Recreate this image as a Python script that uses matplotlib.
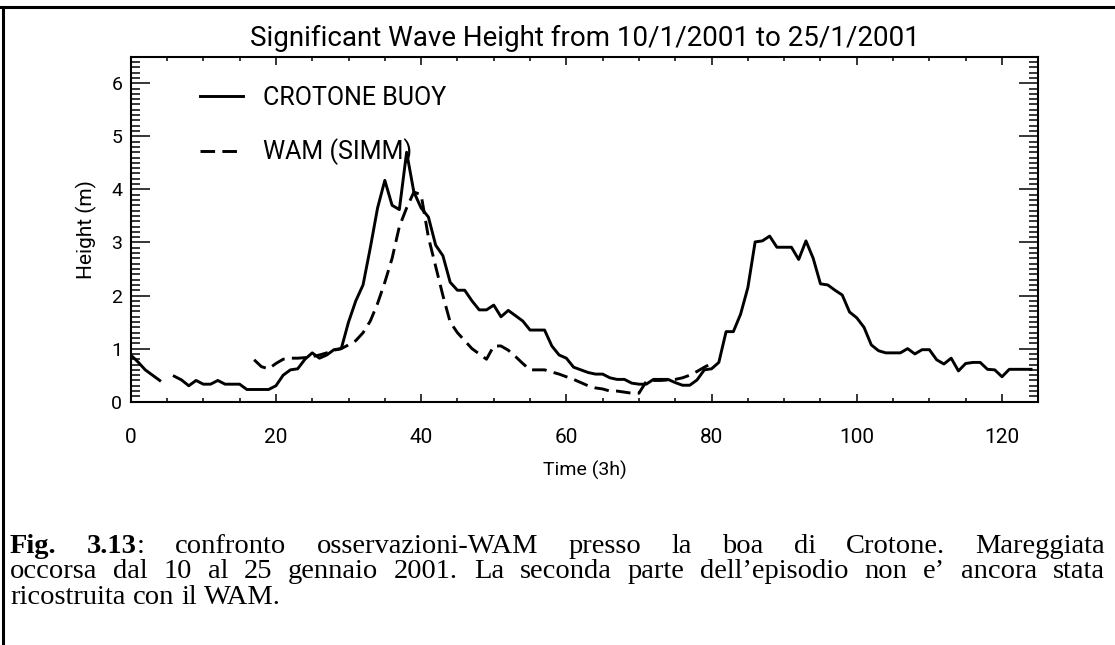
import numpy as np
import matplotlib
matplotlib.use('Agg')
import matplotlib.pyplot as plt
from matplotlib.ticker import MultipleLocator
from matplotlib.lines import Line2D
from matplotlib.transforms import IdentityTransform

# Time steps (3h) and significant wave height (m)
buoy_time = np.arange(0, 125)
buoy_height = [
    0.88, 0.75, 0.60, 0.50, 0.40, np.nan, 0.48, 0.41, 0.30, 0.40,   # 0-9
    0.33, 0.33, 0.40, 0.33, 0.33, 0.33, 0.23, 0.23, 0.23, 0.23,     # 10-19
    0.30, 0.50, 0.60, 0.62, 0.80, 0.92, 0.82, 0.88, 0.98, 1.00,     # 20-29
    1.50, 1.90, 2.20, 2.90, 3.65, 4.17, 3.70, 3.62, 4.70, 3.95,     # 30-39
    3.65, 3.48, 2.95, 2.75, 2.25, 2.10, 2.10, 1.90, 1.73, 1.73,     # 40-49
    1.82, 1.60, 1.72, 1.62, 1.52, 1.35, 1.35, 1.35, 1.05, 0.88,     # 50-59
    0.82, 0.65, 0.60, 0.55, 0.52, 0.52, 0.45, 0.42, 0.42, 0.35,     # 60-69
    0.33, 0.33, 0.42, 0.42, 0.42, 0.36, 0.31, 0.31, 0.41, 0.60,     # 70-79
    0.62, 0.74, 1.32, 1.32, 1.65, 2.15, 3.01, 3.03, 3.12, 2.91,     # 80-89
    2.91, 2.91, 2.68, 3.03, 2.70, 2.22, 2.20, 2.10, 2.01, 1.69,     # 90-99
    1.58, 1.40, 1.07, 0.96, 0.92, 0.92, 0.92, 1.00, 0.90, 0.98,     # 100-109
    0.98, 0.79, 0.71, 0.82, 0.58, 0.72, 0.74, 0.74, 0.61, 0.60,     # 110-119
    0.47, 0.61, 0.61, 0.61, 0.61,                                   # 120-124
]
wam_time = np.arange(17, 81)
wam_height = [
    0.79, 0.66, 0.62,                                               # 17-19
    0.72, 0.80, 0.82, 0.82, 0.83, 0.85, 0.88, 0.92, 0.97, 1.00,     # 20-29
    1.07, 1.15, 1.30, 1.52, 1.85, 2.25, 2.70, 3.30, 3.65, 3.95,     # 30-39
    3.90, 3.10, 2.55, 2.00, 1.50, 1.30, 1.15, 1.00, 0.90, 0.80,     # 40-49
    1.05, 1.05, 0.97, 0.85, 0.72, 0.60, 0.60, 0.60, 0.56, 0.52,     # 50-59
    0.47, 0.42, 0.36, 0.30, 0.26, 0.24, 0.20, 0.20, 0.18, 0.16,     # 60-69
    0.16, 0.38, 0.40, 0.40, 0.41, 0.42, 0.45, 0.50, 0.57, 0.65,     # 70-79
    0.72,                                                           # 80
]
series_labels = ['CROTONE BUOY', 'WAM (SIMM)']
x_ticks = [0, 20, 40, 60, 80, 100, 120]
y_ticks = [0, 1, 2, 3, 4, 5, 6]

title = 'Significant Wave Height from 10/1/2001 to 25/1/2001'
x_label = 'Time (3h)'
y_label = 'Height (m)'

# caption: each line is a list of words, each word a list of (text, weight) pieces
caption_lines = [
    [[('Fig.', 'bold')], [('3.13', 'bold'), (':', 'normal')], [('confronto', 'normal')],
     [('osservazioni-WAM', 'normal')], [('presso', 'normal')], [('la', 'normal')],
     [('boa', 'normal')], [('di', 'normal')], [('Crotone.', 'normal')], [('Mareggiata', 'normal')]],
    [[(w, 'normal')] for w in "occorsa dal 10 al 25 gennaio 2001. La seconda parte dell\u2019episodio non e\u2019 ancora stata".split()],
    [[(w, 'normal')] for w in "ricostruita con il WAM.".split()],
]

sans = ['Roboto', 'DejaVu Sans']
serif = ['Liberation Serif', 'DejaVu Serif']
plt.rcParams['font.family'] = sans

W, H = 1115, 645
fig = plt.figure(figsize=(W / 100, H / 100), dpi=100)
ax = fig.add_axes([130.7 / W, 1 - 401.7 / H, (1038.3 - 130.7) / W, (401.7 - 56.7) / H])

ax.plot(buoy_time, buoy_height, color='black', lw=2.1, label=series_labels[0])
ax.plot(wam_time, wam_height, color='black', lw=2.1, dashes=(5.0, 2.5), label=series_labels[1])

ax.set_xlim(0, 125)
ax.set_ylim(0, 6.5)
ax.set_xticks(x_ticks)
ax.set_yticks(y_ticks)
ax.xaxis.set_minor_locator(MultipleLocator(5))
ax.yaxis.set_minor_locator(MultipleLocator(0.1))
ax.tick_params(axis='both', which='both', direction='in', top=True, right=True,
               color='black', width=1.1)
ax.tick_params(axis='x', which='major', length=6, labelsize=15, pad=19)
ax.tick_params(axis='x', which='minor', length=3)
ax.tick_params(axis='y', which='major', length=13.5, labelsize=14, pad=6)
ax.tick_params(axis='y', which='minor', length=6.5)
for s in ax.spines.values():
    s.set_linewidth(1.5)

ax.set_title(title, fontsize=20, pad=8)
ax.set_xlabel(x_label, fontsize=14, labelpad=10)
ax.set_ylabel(y_label, fontsize=15, labelpad=10)

ax.legend(loc='upper left', bbox_to_anchor=(0.065, 0.945), frameon=False, fontsize=18,
          handlelength=1.75, handletextpad=0.8, labelspacing=1.15, borderaxespad=0)

# page border (table cell lines)
fig.add_artist(Line2D([0, W], [H - 7, H - 7], transform=IdentityTransform(), color='black', lw=2.2))
fig.add_artist(Line2D([2.5, 2.5], [0, H - 7], transform=IdentityTransform(), color='black', lw=2.2))

# caption, justified like the document text
renderer = fig.canvas.get_renderer()
cap_size = 20.5
x_left, x_right = 10, 1105
baselines = [553, 578, 604]
for i, line in enumerate(caption_lines):
    y = H - baselines[i]
    words = []
    for word in line:
        pieces = []
        for txt, wt in word:
            t = fig.text(0, y, txt, fontsize=cap_size, fontweight=wt, family=serif,
                         va='baseline', ha='left', transform=IdentityTransform())
            pieces.append(t)
        words.append(pieces)
    widths = [[p.get_window_extent(renderer).width for p in pieces] for pieces in words]
    total = sum(sum(w) for w in widths)
    if i < len(caption_lines) - 1:
        gap = (x_right - x_left - total) / (len(words) - 1)
    else:
        gap = cap_size * 0.25 * 100 / 72
    x = x_left
    for pieces, ws in zip(words, widths):
        for p, w in zip(pieces, ws):
            p.set_x(x)
            x += w
        x += gap

fig.savefig('out.png', dpi=100)
